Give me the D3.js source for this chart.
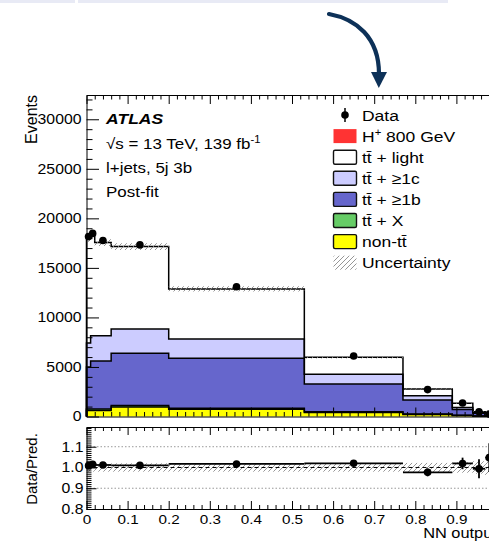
<!DOCTYPE html>
<meta charset="utf-8">
<script src="https://cdn.jsdelivr.net/npm/d3@7"></script>
<style>
body { margin: 0; background: #fff; }
text { font-family: "Liberation Sans", Arial, sans-serif; fill: #000; }
/* the source picture is a bit wider than tall, so stretch the glyphs */
.sx { transform-box: fill-box; transform: scaleX(1.13); transform-origin: left center; }
.sx.end { transform-origin: right center; }
.sx.mid { transform-origin: center center; }
</style>
<body>
<script>

// NN output binning
var edges = [0, 0.01, 0.02, 0.06, 0.2, 0.53, 0.77, 0.89, 0.94, 0.97, 0.99, 1.0];

// post-fit yields per bin, bottom of the stack first
var nonTT   = [600, 600, 600, 950, 720, 400, 200, 90, 45, 20, 10];
var ttX     = [150, 150, 150, 170, 120, 90, 50, 25, 12, 6, 3];
var tt1b    = [4250, 4850, 4850, 5260, 5040, 2790, 1420, 585, 273, 104, 47];
var tt1c    = [2420, 2560, 2560, 2460, 1950, 980, 430, 220, 90, 50, 20];
var ttLight = [10580, 10040, 9390, 8310, 5050, 1720, 680, 410, 60, 50, 20];
var hPlus   = [0, 0, 0, 0, 0, 0, 0, 1, 1, 2, 2];

// data
var dataVals = [18160, 18480, 17760, 17320, 13100, 6100, 2715, 1357, 478, 243, 105];
var dataErr  = [135, 136, 133, 132, 114, 78, 52, 37, 22, 16, 10];

// relative uncertainty of the prediction
var uncRel = [0.02, 0.02, 0.02, 0.02, 0.02, 0.02, 0.022, 0.025, 0.03, 0.04, 0.05];

var yMajor = [0, 5000, 10000, 15000, 20000, 25000, 30000];
var rMajor = [0.8, 0.9, 1.0, 1.1];
var xMajor = [0, 0.1, 0.2, 0.3, 0.4, 0.5, 0.6, 0.7, 0.8, 0.9, 1.0];

var width = 489, height = 543;

var svg = d3.select("body").append("svg")
    .attr("width", width)
    .attr("height", height);

var defs = svg.append("defs");
var hatch = defs.append("pattern")
    .attr("id", "hatch")
    .attr("patternUnits", "userSpaceOnUse")
    .attr("width", 5).attr("height", 5);
hatch.append("path")
    .attr("d", "M0,5 L5,0 M-1,1 L1,-1 M4,6 L6,4")
    .attr("stroke", "#8a8a8a")
    .attr("stroke-width", 0.9);

// page decoration on top
svg.append("rect").attr("x", 0).attr("y", 0).attr("width", 75).attr("height", 3).attr("fill", "#e8eaf5");
svg.append("rect").attr("x", 78).attr("y", 0).attr("width", 370).attr("height", 3).attr("fill", "#e8eaf5");

svg.append("path")
    .attr("d", "M329,14 C356,19 379,37 379,74")
    .attr("fill", "none")
    .attr("stroke", "#0d3158")
    .attr("stroke-width", 4.2)
    .attr("stroke-linecap", "round");
svg.append("path")
    .attr("d", "M371,72 L387,72 L378.8,88 Z")
    .attr("fill", "#0d3158");

var x = d3.scaleLinear().domain([0, 1]).range([86.5, 497.5]);
var y = d3.scaleLinear().domain([0, 32450]).range([416.5, 95]);
var ry = d3.scaleLinear().domain([0.8, 1.195]).range([509, 427]);

var nb = edges.length - 1;
var centers = d3.range(nb).map(i => (edges[i] + edges[i + 1]) / 2);

// build the stack
var layers = [
    { vals: nonTT,   col: "#ffff00", line: true },
    { vals: ttX,     col: "#66cc66", line: true },
    { vals: tt1b,    col: "#6666cc", line: true },
    { vals: tt1c,    col: "#ccccff", line: true },
    { vals: ttLight, col: "#ffffff", line: true },
    { vals: hPlus,   col: "#ff3333", line: false }
];
var base = d3.range(nb).map(() => 0);
layers.forEach(l => {
    l.lo = base.slice();
    l.hi = base.map((b, i) => b + l.vals[i]);
    base = l.hi;
});
var total = base;

function stepPts(lo, hi) {
    var p = [];
    for (var i = 0; i < nb; i++) {
        p.push([edges[i], lo[i], hi[i]]);
        p.push([edges[i + 1], lo[i], hi[i]]);
    }
    return p;
}

var area = d3.area()
    .x(d => x(d[0]))
    .y0(d => y(d[1]))
    .y1(d => y(d[2]));

var line = d3.line()
    .x(d => x(d[0]))
    .y(d => y(d[2]));

var main = svg.append("g");

layers.forEach(l => {
    main.append("path")
        .attr("d", area(stepPts(l.lo, l.hi)))
        .attr("fill", l.col);
});

layers.forEach(l => {
    if (!l.line) return;
    var pts = [[0, 0, 0]].concat(stepPts(l.lo, l.hi)).concat([[1, 0, 0]]);
    main.append("path")
        .attr("d", line(pts))
        .attr("fill", "none")
        .attr("stroke", "#000")
        .attr("stroke-width", 1.5);
});

// uncertainty band
var bandLo = total.map((t, i) => t * (1 - uncRel[i]));
var bandHi = total.map((t, i) => t * (1 + uncRel[i]));
main.append("path")
    .attr("d", area(stepPts(bandLo, bandHi)))
    .attr("fill", "url(#hatch)");

// data points
main.selectAll(".derr")
    .data(dataVals)
    .enter().append("line")
    .attr("x1", (d, i) => x(centers[i]))
    .attr("x2", (d, i) => x(centers[i]))
    .attr("y1", (d, i) => y(d - dataErr[i]))
    .attr("y2", (d, i) => y(d + dataErr[i]))
    .attr("stroke", "#000")
    .attr("stroke-width", 1.5);
main.selectAll(".dot")
    .data(dataVals)
    .enter().append("circle")
    .attr("cx", (d, i) => x(centers[i]))
    .attr("cy", d => y(d))
    .attr("r", 3.8)
    .attr("fill", "#000");

// main axes
function styleAxis(g, size) {
    g.attr("font-family", null).attr("font-size", null);
    g.selectAll("text").style("font-size", size + "px");
}

var yMinor = d3.range(1000, 32001, 1000).filter(v => v % 5000 != 0);
var xMinor = d3.range(0, 51).map(i => i * 0.02).filter((v, i) => i % 5 != 0);
var rMinor = d3.range(0, 40).map(i => +(0.8 + i * 0.01).toFixed(2));

var gy = svg.append("g").attr("transform", "translate(86.5,0)")
    .call(d3.axisLeft(y).tickValues(yMajor).tickSize(-12.5).tickSizeOuter(0).tickPadding(5).tickFormat(d3.format("d")));
styleAxis(gy, 14);
gy.selectAll("text").attr("class", "sx end");
svg.append("g").attr("transform", "translate(86.5,0)")
    .call(d3.axisLeft(y).tickValues(yMinor).tickSize(-6).tickFormat(""))
    .select(".domain").remove();

svg.append("g").attr("transform", "translate(0,95)")
    .call(d3.axisTop(x).tickValues(xMajor).tickSize(-9).tickSizeOuter(0).tickFormat(""));
svg.append("g").attr("transform", "translate(0,95)")
    .call(d3.axisTop(x).tickValues(xMinor).tickSize(-4.5).tickFormat(""))
    .select(".domain").remove();
svg.append("g").attr("transform", "translate(0,416.5)")
    .call(d3.axisBottom(x).tickValues(xMajor).tickSize(-9).tickSizeOuter(0).tickFormat(""));
svg.append("g").attr("transform", "translate(0,416.5)")
    .call(d3.axisBottom(x).tickValues(xMinor).tickSize(-4.5).tickFormat(""))
    .select(".domain").remove();

// texts in the main panel
svg.append("text")
    .attr("class", "sx")
    .attr("x", 106).attr("y", 124.3)
    .style("font-size", "15.5px")
    .style("font-weight", "bold")
    .style("font-style", "italic")
    .text("ATLAS");

var lumi = svg.append("text")
    .attr("class", "sx")
    .attr("x", 106).attr("y", 149.5)
    .style("font-size", "15px");
lumi.append("tspan").text("\u221As = 13 TeV, 139 fb");
lumi.append("tspan").attr("dy", -6).style("font-size", "10px").text("-1");

svg.append("text")
    .attr("class", "sx")
    .attr("x", 106).attr("y", 172.8)
    .style("font-size", "15px")
    .text("l+jets, 5j 3b");

svg.append("text")
    .attr("class", "sx")
    .attr("x", 106).attr("y", 197.3)
    .style("font-size", "15px")
    .text("Post-fit");

svg.append("text")
    .attr("transform", "translate(36.5,95) rotate(-90)")
    .attr("text-anchor", "end")
    .style("font-size", "16px")
    .text("Events");

// legend
var legendRows = [
    { label: "Data", type: "data" },
    { label: "H", sup: "+", rest: " 800 GeV", fill: "#ff3333", border: false },
    { label: "tt\u0304 + light", fill: "#ffffff", border: true },
    { label: "tt\u0304 + \u22651c", fill: "#ccccff", border: true },
    { label: "tt\u0304 + \u22651b", fill: "#6666cc", border: true },
    { label: "tt\u0304 + X", fill: "#66cc66", border: true },
    { label: "non-tt\u0304", fill: "#ffff00", border: true },
    { label: "Uncertainty", fill: "url(#hatch)", border: false }
];

var leg = svg.append("g");
legendRows.forEach((r, i) => {
    var cy = 115 + i * 21.1;
    if (r.type == "data") {
        leg.append("line")
            .attr("x1", 345).attr("x2", 345)
            .attr("y1", cy - 7).attr("y2", cy + 7)
            .attr("stroke", "#000").attr("stroke-width", 1.5);
        leg.append("circle")
            .attr("cx", 345).attr("cy", cy).attr("r", 3.8).attr("fill", "#000");
    } else {
        leg.append("rect")
            .attr("x", 333.5).attr("y", cy - 7)
            .attr("width", 23).attr("height", 14)
            .attr("rx", r.border ? 1.5 : 0)
            .attr("fill", r.fill)
            .attr("stroke", r.border ? "#111" : "none")
            .attr("stroke-width", 1.4);
    }
    var t = leg.append("text")
        .attr("class", "sx")
        .attr("x", 362).attr("y", cy + 5.6)
        .style("font-size", "15.5px");
    t.append("tspan").text(r.label);
    if (r.sup) {
        t.append("tspan").attr("dy", -6).style("font-size", "10px").text(r.sup);
        t.append("tspan").attr("dy", 6).text(r.rest);
    }
});

// ratio panel
var ratio = dataVals.map((d, i) => d / total[i]);
var ratioErr = dataErr.map((e, i) => e / total[i]);

var rp = svg.append("g");

rp.selectAll(".band")
    .data(uncRel)
    .enter().append("rect")
    .attr("x", (d, i) => x(edges[i]))
    .attr("width", (d, i) => x(edges[i + 1]) - x(edges[i]))
    .attr("y", d => ry(1 + d))
    .attr("height", d => ry(1 - d) - ry(1 + d))
    .attr("fill", "url(#hatch)");

[0.9, 1.1].forEach(v => {
    rp.append("line")
        .attr("x1", x(0)).attr("x2", x(1))
        .attr("y1", ry(v)).attr("y2", ry(v))
        .attr("stroke", "#999")
        .attr("stroke-dasharray", "1.5,2");
});
rp.append("line")
    .attr("x1", x(0)).attr("x2", x(1))
    .attr("y1", ry(1)).attr("y2", ry(1))
    .attr("stroke", "#000")
    .attr("stroke-dasharray", "4,3");

rp.selectAll(".rx")
    .data(ratio)
    .enter().append("line")
    .attr("x1", (d, i) => x(edges[i]))
    .attr("x2", (d, i) => x(edges[i + 1]))
    .attr("y1", d => ry(d))
    .attr("y2", d => ry(d))
    .attr("stroke", "#000")
    .attr("stroke-width", 1.8);
rp.selectAll(".ry")
    .data(ratio)
    .enter().append("line")
    .attr("x1", (d, i) => x(centers[i]))
    .attr("x2", (d, i) => x(centers[i]))
    .attr("y1", (d, i) => ry(d - ratioErr[i]))
    .attr("y2", (d, i) => ry(d + ratioErr[i]))
    .attr("stroke", "#000")
    .attr("stroke-width", 1.8);
rp.selectAll(".rdot")
    .data(ratio)
    .enter().append("circle")
    .attr("cx", (d, i) => x(centers[i]))
    .attr("cy", d => ry(d))
    .attr("r", 3.8)
    .attr("fill", "#000");

var gr = svg.append("g").attr("transform", "translate(86.5,0)")
    .call(d3.axisLeft(ry).tickValues(rMajor).tickSize(-10).tickSizeOuter(0).tickPadding(3).tickFormat(d3.format(".1f")));
styleAxis(gr, 14);
gr.selectAll("text").attr("class", "sx end");
svg.append("g").attr("transform", "translate(86.5,0)")
    .call(d3.axisLeft(ry).tickValues(rMinor).tickSize(-5).tickFormat(""))
    .select(".domain").remove();

svg.append("g").attr("transform", "translate(0,427)")
    .call(d3.axisTop(x).tickValues(xMajor).tickSize(-8).tickSizeOuter(0).tickFormat(""));
svg.append("g").attr("transform", "translate(0,427)")
    .call(d3.axisTop(x).tickValues(xMinor).tickSize(-4).tickFormat(""))
    .select(".domain").remove();

var gx = svg.append("g").attr("transform", "translate(0,509)")
    .call(d3.axisBottom(x).tickValues(xMajor).tickSize(-8).tickSizeOuter(0).tickPadding(5)
        .tickFormat(d => (d == 0 || d == 1) ? String(d) : d3.format(".1f")(d)));
styleAxis(gx, 13.5);
gx.selectAll("text").attr("class", "sx mid");
svg.append("g").attr("transform", "translate(0,509)")
    .call(d3.axisBottom(x).tickValues(xMinor).tickSize(-4).tickFormat(""))
    .select(".domain").remove();

svg.append("text")
    .attr("transform", "translate(36.5,469) rotate(-90)")
    .attr("text-anchor", "middle")
    .style("font-size", "15px")
    .text("Data/Pred.");

svg.append("text")
    .attr("class", "sx end")
    .attr("x", 497).attr("y", 538.5)
    .attr("text-anchor", "end")
    .style("font-size", "14.5px")
    .text("NN output");

</script>
</body>
